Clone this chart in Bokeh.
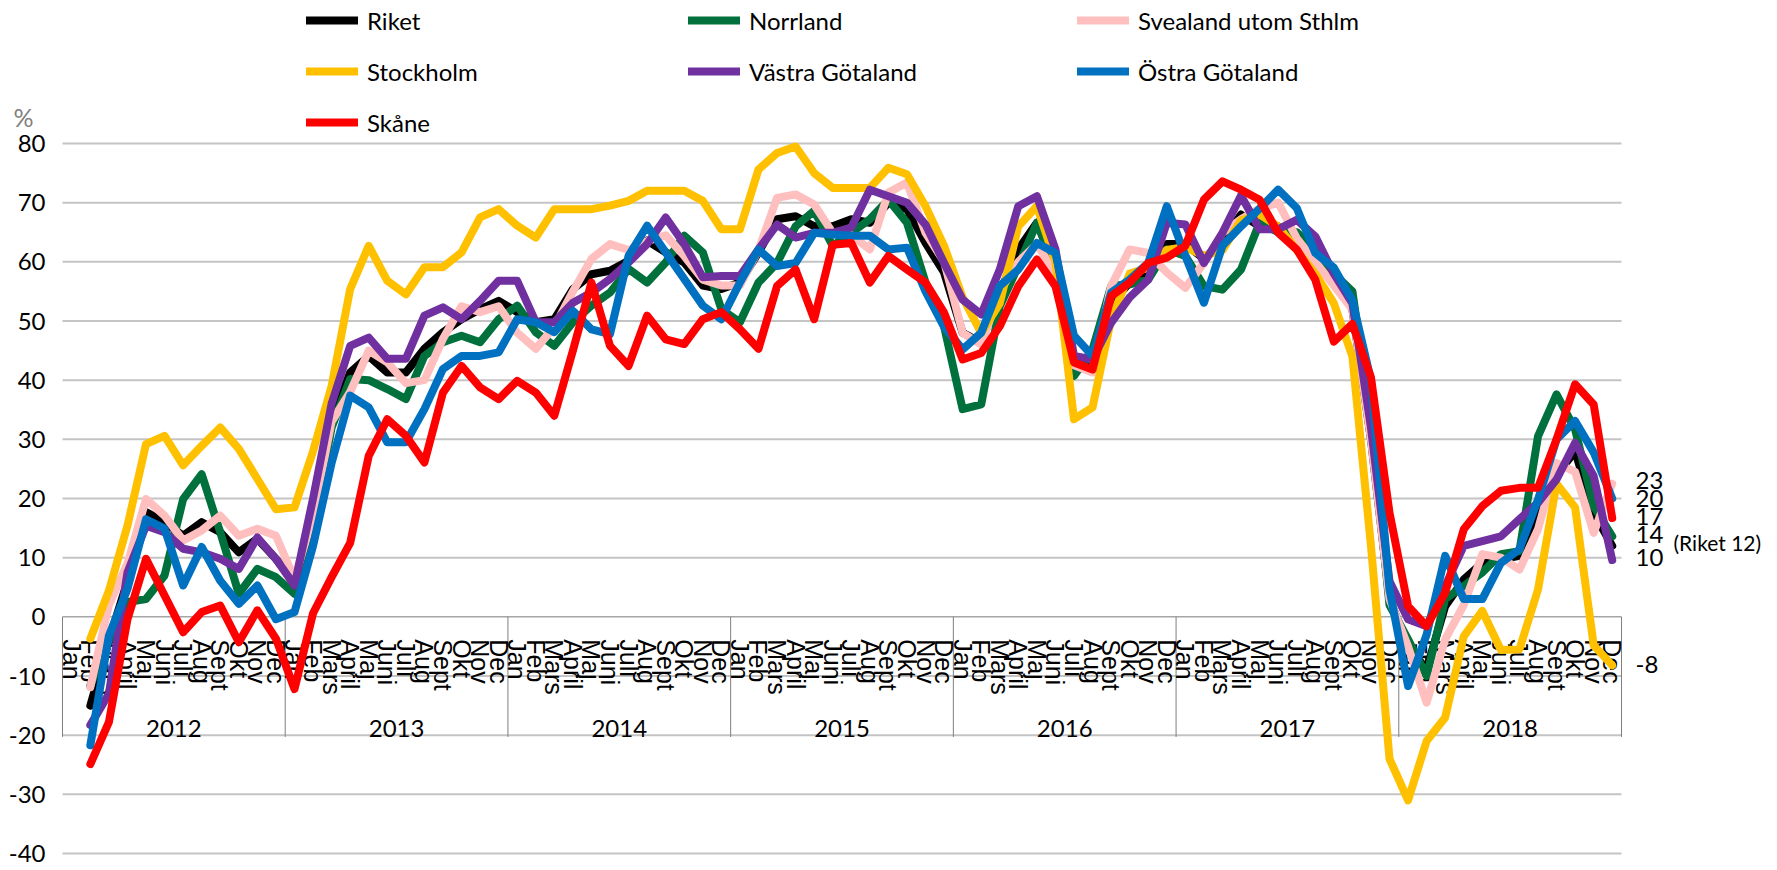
import math
from bokeh.plotting import figure
from bokeh.models import Range1d, FixedTicker, Legend, LegendItem, Label
from bokeh.core.properties import value
from bokeh.embed import file_html
from bokeh.resources import INLINE

# ---------------- data ----------------
years = ["2012", "2013", "2014", "2015", "2016", "2017", "2018"]
months = ["Jan", "Feb", "Mars", "April", "Maj", "Juni", "Juli", "Aug", "Sept", "Okt", "Nov", "Dec"]
first_month_index = 1  # series start in Feb 2012
y_ticks = list(range(-40, 81, 10))

riket = [-15, -4, 6, 17.7, 16, 13.7, 16, 14.3, 10.9, 13.2, 9.8,
         5.8, 16, 33, 41.3, 44.1, 41.3, 41.3, 45.3, 48.1, 50.3, 52, 53.4,
         51.5, 49.8, 50.3, 55.4, 57.9, 58.5, 60.2, 63.6, 61.6, 59.9, 56, 55.4,
         56.5, 61.6, 67.2, 67.7, 66, 66, 67.2, 66.6, 70, 68.9, 63.2, 58.2,
         48, 46.3, 54.8, 62.1, 66.6, 59, 43.5, 41.8, 53, 56.5, 58.5, 63,
         63, 60.5, 63.5, 68, 66, 66, 63.5, 61, 57.5, 52, 30, 3,
         -5, -8.9, 1.8, 6.3, 9.1, 9.7, 10.3, 17.6, 24, 28, 17.6, 12]
norrland = [-11.6, -4, 2.5, 3.0, 7.0, 19.9, 24.1, 14.3, 3.9, 8.1, 6.7,
            3.9, 15, 32, 40.2, 40, 38.5, 36.8, 44.1, 46.4, 47.5, 46.4, 50.3,
            52.6, 48.1, 45.8, 49.8, 52.6, 54.8, 58.8, 56.5, 59.9, 64.4, 61.6, 52,
            49.8, 56.5, 59.8, 66, 68.6, 62.7, 64.9, 67.2, 70.5, 66.6, 56.5, 49.1,
            35.1, 35.9, 52.5, 59.3, 66.6, 59, 40.7, 45.2, 55.9, 56.2, 57, 62.1,
            61, 55.9, 55.3, 58.7, 66.6, 65, 65, 62, 58, 55, 33, 2,
            -3.8, -10, 3, 5.2, 7.5, 10.6, 11.1, 30.5, 37.6, 31.7, 18.7, 13.6]
svealand = [-11.9, 2, 9, 19.9, 17.1, 12.9, 14.6, 17.1, 13.7, 14.9, 13.7,
            6.4, 17, 33, 38, 45, 43, 39.5, 40, 47, 52.5, 51.5, 52.5,
            48, 45.3, 49, 55, 60.5, 63, 62, 63.5, 64.5, 61, 57, 56,
            56, 62, 70.8, 71.4, 69.7, 64.9, 64.5, 62.1, 71.7, 73.4, 64.9, 60,
            48, 46, 55, 60, 63, 58, 42.5, 41.3, 55.9, 62.1, 61.5, 58.2,
            55.6, 59.8, 64.9, 67.2, 69, 70, 64, 60, 56, 52, 30, 3,
            -5, -14.5, -3.8, 2, 10.6, 10, 8, 14.8, 26, 24.5, 14.2, 22.5]
stockholm = [-3.7, 4.4, 15.4, 29.2, 30.6, 25.6, 28.9, 32.0, 28.4, 23.3, 18.2,
             18.5, 28, 39, 55.4, 62.7, 56.8, 54.5, 59.1, 59.1, 61.6, 67.5, 68.9,
             66.1, 64.1, 68.9, 68.9, 68.9, 69.5, 70.3, 72, 72, 72, 70.3, 65.5,
             65.5, 75.6, 78.4, 79.5, 75, 72.5, 72.5, 72.5, 75.9, 74.8, 69.4, 62.7,
             54, 48, 53, 66, 69.4, 60, 33.4, 35.4, 50.3, 58, 59, 62,
             62.5, 61, 62, 67, 68, 66, 62, 58, 53, 44, 12, -24,
             -31, -21, -17, -3.3, 1, -5.6, -5.5, 4.6, 22.5, 18.5, -4.8, -8.2]
vastra = [-18.3, -13, 7.5, 15.4, 14.3, 11.5, 10.9, 9.8, 8.1, 13.4, 9.8,
          5.3, 20, 36, 45.8, 47.2, 43.6, 43.6, 50.9, 52.3, 50.3, 53.4, 56.8,
          56.8, 49.8, 49.8, 53.1, 54.8, 57.1, 59.9, 63, 67.5, 63, 57.4, 57.6,
          57.6, 62.1, 66.3, 64.1, 64.9, 64.9, 65.8, 72.2, 71.1, 70, 66.3, 59.8,
          53.6, 51.1, 58.7, 69.4, 71.1, 62.1, 44.1, 43.5, 49.7, 54, 57, 66.6,
          66.3, 59.8, 64.9, 71.2, 65.5, 65.5, 67.1, 64.3, 58, 53, 32, 6,
          -0.4, -1.6, 5.2, 12, 12.8, 13.6, 16.5, 19.3, 23.2, 29.4, 23.8, 9.6]
ostra = [-21.7, -3.2, 4.7, 16.5, 14.9, 5.3, 11.8, 6.1, 2.2, 5.3, -0.4,
         0.8, 12, 26, 37.4, 35.4, 29.5, 29.5, 35.1, 41.9, 44.1, 44.1, 44.7,
         50.3, 49.8, 48.1, 51.7, 48.6, 47.8, 61, 66.1, 61.6, 57.1, 52.6, 50.3,
         56.5, 62.1, 59.3, 59.8, 64.9, 64.6, 64.4, 64.4, 62.1, 62.4, 55, 49,
         45.2, 48, 55.9, 58.7, 63.2, 61.5, 47.5, 44.1, 54.8, 57, 59.8, 69.4,
         61, 53.1, 62.7, 66, 69, 72.2, 69.1, 61.5, 59, 53.5, 40, 4.6,
         -11.7, -3, 10.3, 3, 3, 9.1, 11.4, 19.8, 30, 33.1, 27.8, 20]
skane = [-24.9, -17.8, -0.4, 9.8, 3.6, -2.6, 0.8, 1.9, -4.3, 1.1, -3.7,
         -12.2, 0.6, 6.7, 12.5, 27.2, 33.4, 30.6, 26.1, 37.9, 42.4, 38.8, 36.8,
         39.9, 37.9, 34, 45, 56.5, 45.8, 42.4, 50.9, 46.9, 46.1, 50.3, 51.5,
         48.6, 45.3, 55.9, 58.7, 50.3, 62.9, 63.2, 56.5, 61, 58.7, 56.5, 51.4,
         43.5, 44.6, 49.1, 55.9, 60.4, 55.9, 43, 41.8, 54.2, 56.5, 59.8, 60.7,
         62.7, 70.5, 73.6, 72.2, 70.5, 64.9, 62.1, 57, 46.5, 49.5, 40.5, 17.6,
         1.8, -1.6, 4.1, 14.8, 18.7, 21.3, 21.8, 21.8, 30, 39.3, 35.9, 16.7]

series_names = ["Riket", "Norrland", "Svealand utom Sthlm", "Stockholm",
                "Västra Götaland", "Östra Götaland", "Skåne"]
series_values = [riket, norrland, svealand, stockholm, vastra, ostra, skane]
series_colors = ["#000000", "#00703C", "#FFBFBF", "#FFC000", "#7030A0", "#0070C0", "#FF0000"]

end_label_texts = ["23", "20", "17", "14", "10", "-8"]
end_label_values = [23, 20, 17, 14, 10, -8]
riket_end_text = "(Riket 12)"
riket_end_value = 12.5

# ---------------- layout (pixels inside the figure) ----------------
W, H = 1769, 862
PL, PR, PT, PB = 62, 1621, 143, 853          # plot area edges
n_months = len(years) * len(months)
y_lo, y_hi = y_ticks[0], y_ticks[-1]
ppx = (PR - PL) / n_months
ppy = (PB - PT) / (y_hi - y_lo)
x_range = Range1d(-PL / ppx, n_months + (W - PR) / ppx)
y_range = Range1d(y_lo - (H - PB) / ppy, y_hi + PT / ppy)

p = figure(width=W, height=H, output_backend="svg", toolbar_location=None,
           x_range=x_range, y_range=y_range,
           min_border_left=0, min_border_right=0, min_border_top=0, min_border_bottom=0)
p.outline_line_color = None
p.background_fill_color = "white"
p.xaxis.visible = False
p.xgrid.visible = False
p.ygrid.visible = False

yax = p.yaxis[0]
yax.fixed_location = 0
yax.ticker = FixedTicker(ticks=y_ticks)
yax.major_label_overrides = {t: str(t) for t in y_ticks}
yax.axis_line_color = None
yax.major_tick_line_color = None
yax.minor_tick_line_color = None
yax.major_tick_out = 0
yax.major_tick_in = 0
yax.minor_tick_out = 0
yax.major_label_standoff = 17
yax.major_label_text_font = "Lato"
yax.major_label_text_font_size = "24px"
yax.major_label_text_color = "#000000"

# horizontal grid lines across the category span
grid_y = [t for t in y_ticks if t != 0]
p.segment(x0=[0] * len(grid_y), y0=grid_y, x1=[n_months] * len(grid_y), y1=grid_y,
          line_color="#c4c4c4", line_width=2)
# category box at y = 0
p.segment(x0=[0], y0=[0], x1=[n_months], y1=[0], line_color="#a6a6a6", line_width=1.5)
bounds = list(range(0, n_months + 1, len(months)))
p.segment(x0=bounds, y0=[0] * len(bounds), x1=bounds, y1=[-20.3] * len(bounds),
          line_color="#7f7f7f", line_width=1)

month_x = [i + 0.5 for i in range(n_months)]
month_txt = [months[i % 12] for i in range(n_months)]
p.text(x=month_x, y=[-3.8] * n_months, text=month_txt, angle=-math.pi / 2,
       text_align="left", text_baseline="middle", text_font=value("Liberation Sans"),
       text_font_size="25px", text_color="#000000")
year_x = [k * 12 + 6 for k in range(len(years))]
p.text(x=year_x, y=[-18.8] * len(years), text=years, text_align="center",
       text_baseline="middle", text_font=value("Lato"), text_font_size="24px",
       text_color="#000000")

# series
renderers = {}
for name, vals, col in zip(series_names, series_values, series_colors):
    xs = [first_month_index + k + 0.5 for k in range(len(vals))]
    renderers[name] = p.line(xs, vals, line_color=col, line_width=8,
                             line_join="round", line_cap="round")

# legends (3 columns)
legend_cols = [["Riket", "Stockholm", "Skåne"],
               ["Norrland", "Västra Götaland"],
               ["Svealand utom Sthlm", "Östra Götaland"]]
legend_x = [306, 688, 1077]
for names, lx in zip(legend_cols, legend_x):
    h = len(names) * 30 + (len(names) - 1) * 21
    lg = Legend(items=[LegendItem(label=n, renderers=[renderers[n]]) for n in names],
                location=(lx, H - h - 5), orientation="vertical",
                glyph_width=52, glyph_height=30, label_height=30, spacing=21,
                label_standoff=9, padding=0, margin=0,
                border_line_color=None, background_fill_alpha=0,
                label_text_font="Lato", label_text_font_size="24px",
                label_text_color="#000000")
    p.add_layout(lg, "center")

# end labels
for t, v in zip(end_label_texts, end_label_values):
    p.add_layout(Label(x=n_months, y=v, text=t, x_offset=14, text_align="left",
                       text_baseline="middle", text_font="Lato", text_font_size="24px",
                       text_color="#000000"))
p.add_layout(Label(x=n_months, y=riket_end_value, text=riket_end_text, x_offset=52,
                   text_align="left", text_baseline="middle", text_font="Lato",
                   text_font_size="21px", text_color="#000000"))
p.add_layout(Label(x=13, x_units="screen", y=84.5, text="%", text_align="left",
                   text_baseline="middle", text_font="Lato", text_font_size="25px",
                   text_color="#808080"))

open("out.html", "w").write(file_html(p, INLINE))
